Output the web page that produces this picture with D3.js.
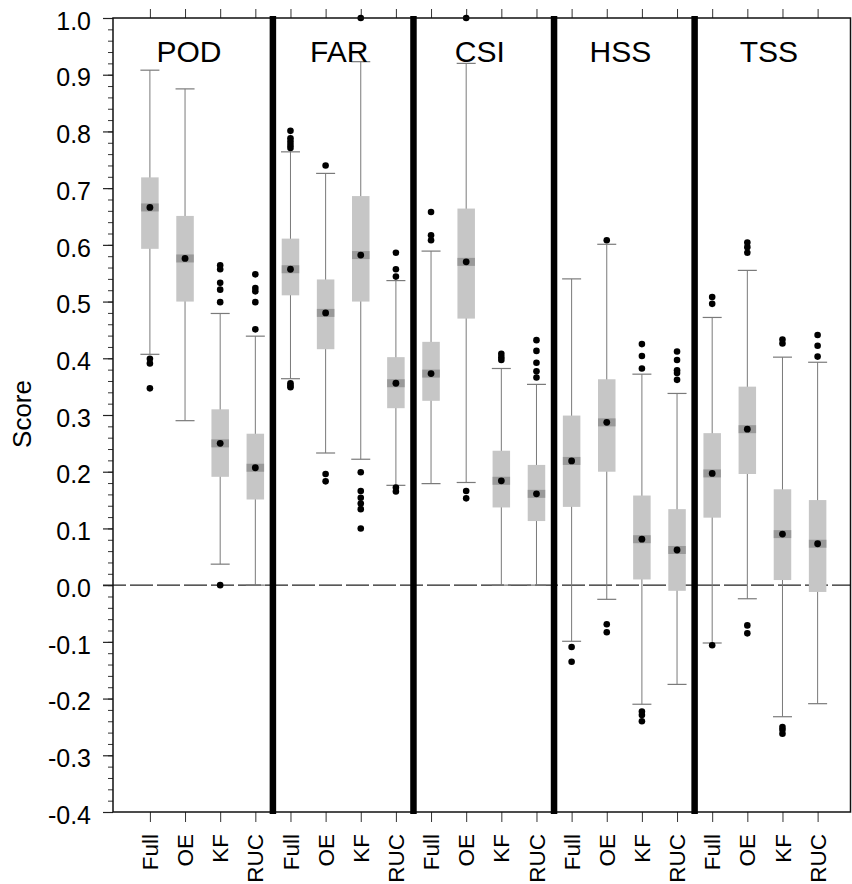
<!DOCTYPE html>
<html>
<head>
<meta charset="utf-8">
<script src="https://cdn.jsdelivr.net/npm/d3@7"></script>
<style>
  body { margin: 0; background: #fff; }
  text { font-family: "Liberation Sans", Arial, sans-serif; fill: #000; }
</style>
</head>
<body>
<svg id="chart" width="852" height="884"></svg>
<script>
// panels (scores) and models inside each panel
var panels = ["POD", "FAR", "CSI", "HSS", "TSS"];
var models = ["Full", "OE", "KF", "RUC"];

// box statistics, 20 boxes in order POD Full..TSS RUC
var whiskerLow  = [0.407, 0.290, 0.037, 0.000,  0.364, 0.233, 0.222, 0.176,  0.179, 0.181, 0.000, 0.000,  -0.099, -0.025, -0.210, -0.175,  -0.102, -0.024, -0.232, -0.209];
var q1          = [0.593, 0.500, 0.191, 0.151,  0.511, 0.416, 0.500, 0.312,  0.325, 0.470, 0.137, 0.113,   0.138,  0.200,  0.010, -0.010,   0.119,  0.196,  0.009, -0.012];
var median      = [0.666, 0.576, 0.250, 0.207,  0.557, 0.480, 0.582, 0.356,  0.373, 0.570, 0.184, 0.161,   0.219,  0.287,  0.081,  0.062,   0.197,  0.275,  0.090,  0.073];
var q3          = [0.719, 0.651, 0.310, 0.267,  0.611, 0.539, 0.686, 0.402,  0.429, 0.664, 0.237, 0.212,   0.299,  0.363,  0.158,  0.134,   0.268,  0.350,  0.169,  0.150];
var whiskerHigh = [0.908, 0.875, 0.479, 0.439,  0.764, 0.726, 0.923, 0.537,  0.589, 0.920, 0.382, 0.354,   0.540,  0.601,  0.372,  0.338,   0.472,  0.555,  0.402,  0.393];
var outliers = [
  [0.399, 0.391, 0.347],
  [],
  [0.564, 0.557, 0.533, 0.521, 0.499, 0.0],
  [0.548, 0.524, 0.518, 0.499, 0.451],
  [0.801, 0.788, 0.782, 0.776, 0.771, 0.356, 0.352, 0.349],
  [0.740, 0.196, 0.183],
  [1.0, 0.199, 0.166, 0.154, 0.144, 0.134, 0.100],
  [0.586, 0.557, 0.544, 0.172, 0.165],
  [0.658, 0.617, 0.608],
  [1.0, 0.166, 0.153],
  [0.408, 0.402, 0.397],
  [0.432, 0.413, 0.392, 0.377, 0.366],
  [-0.109, -0.135],
  [0.608, -0.069, -0.083],
  [0.425, 0.404, 0.382, -0.223, -0.229, -0.240],
  [0.412, 0.397, 0.379, 0.374, 0.362],
  [0.508, 0.496, -0.106],
  [0.604, 0.596, 0.586, -0.071, -0.085],
  [0.433, 0.426, -0.250, -0.255, -0.262],
  [0.441, 0.422, 0.403]
];
var yTickValues = [-0.4, -0.3, -0.2, -0.1, 0.0, 0.1, 0.2, 0.3, 0.4, 0.5, 0.6, 0.7, 0.8, 0.9, 1.0];
var yTitle = "Score";

(function() {
var svg = d3.select("#chart");
svg.append("rect").attr("width", 852).attr("height", 884).attr("fill", "#fff");

var pLeft = 113, pRight = 851, pTop = 18, pBottom = 812;

// category index -> x
var x = d3.scaleLinear().domain([-1.05, 19.95]).range([pLeft, pRight]);
var y = d3.scaleLinear().domain([-0.4, 1.0]).range([pBottom, pTop]);

// build the box list
var boxes = [];
panels.forEach(function(p, pi) {
  models.forEach(function(m, mi) {
    var i = pi * models.length + mi;
    boxes.push({
      idx: i, panel: p, model: m,
      lo: whiskerLow[i], q1: q1[i], med: median[i], q3: q3[i], hi: whiskerHigh[i],
      out: outliers[i]
    });
  });
});

var boxW = 17.5, capW = 19, bandH = 4;

// y axis, major and minor ticks
var minor = d3.range(-0.4, 1.0001, 0.02).map(function(v) { return +v.toFixed(2); });
svg.append("g")
  .attr("transform", "translate(" + pLeft + ",0)")
  .call(d3.axisLeft(y).tickValues(minor).tickSize(5).tickFormat(""))
  .call(function(g) { g.select(".domain").remove(); g.selectAll("line").attr("stroke", "#333"); });

var yAxis = svg.append("g")
  .attr("transform", "translate(" + pLeft + ",0)")
  .call(d3.axisLeft(y).tickValues(yTickValues).tickSize(10).tickPadding(12)
    .tickFormat(function(v) { return v.toFixed(1); }));
yAxis.select(".domain").remove();
yAxis.selectAll("line").attr("stroke", "#222").attr("stroke-width", 1.2);
yAxis.selectAll("text")
  .attr("font-size", 25)
  .attr("font-family", "'Liberation Sans', Arial, sans-serif")
  .attr("dy", "0.45em");

// x axes (bottom and top ticks)
var catIdx = d3.range(boxes.length);
var xb = svg.append("g")
  .attr("transform", "translate(0," + pBottom + ")")
  .call(d3.axisBottom(x).tickValues(catIdx).tickSize(10).tickFormat(""));
xb.select(".domain").remove();
xb.selectAll("line").attr("stroke", "#333");

var xt = svg.append("g")
  .attr("transform", "translate(0," + pTop + ")")
  .call(d3.axisTop(x).tickValues(catIdx).tickSize(9).tickFormat(""));
xt.select(".domain").remove();
xt.selectAll("line").attr("stroke", "#333");

// category labels, rotated
svg.append("g").selectAll("text")
  .data(boxes)
  .enter().append("text")
    .attr("transform", function(d) { return "translate(" + x(d.idx) + ",834) rotate(-90)"; })
    .attr("text-anchor", "end")
    .attr("dy", "0.36em")
    .attr("font-size", 22.5)
    .text(function(d) { return d.model; });

// y title
svg.append("text")
  .attr("transform", "translate(22,414) rotate(-90)")
  .attr("text-anchor", "middle")
  .attr("dy", "0.36em")
  .attr("font-size", 26)
  .text(yTitle);

// zero line
svg.append("line")
  .attr("x1", pLeft - 10).attr("x2", pRight)
  .attr("y1", y(0)).attr("y2", y(0))
  .attr("stroke", "#222").attr("stroke-width", 1.4)
  .attr("stroke-dasharray", "23,4");

// whiskers
var g = svg.append("g");
var bx = g.selectAll("g.box").data(boxes).enter().append("g").attr("class", "box");

bx.append("line")
  .attr("x1", function(d) { return x(d.idx); }).attr("x2", function(d) { return x(d.idx); })
  .attr("y1", function(d) { return y(d.lo); }).attr("y2", function(d) { return y(d.hi); })
  .attr("stroke", "#7a7a7a").attr("stroke-width", 1);

bx.selectAll("line.cap")
  .data(function(d) { return [{ i: d.idx, v: d.lo }, { i: d.idx, v: d.hi }]; })
  .enter().append("line").attr("class", "cap")
    .attr("x1", function(d) { return x(d.i) - capW / 2; })
    .attr("x2", function(d) { return x(d.i) + capW / 2; })
    .attr("y1", function(d) { return y(d.v); }).attr("y2", function(d) { return y(d.v); })
    .attr("stroke", "#7a7a7a").attr("stroke-width", 1.2);

// boxes
bx.append("rect")
  .attr("x", function(d) { return x(d.idx) - boxW / 2; })
  .attr("width", boxW)
  .attr("y", function(d) { return y(d.q3); })
  .attr("height", function(d) { return y(d.q1) - y(d.q3); })
  .attr("fill", "#c6c6c6");

// darker band at median
bx.append("rect")
  .attr("x", function(d) { return x(d.idx) - boxW / 2; })
  .attr("width", boxW)
  .attr("y", function(d) { return y(d.med) - bandH; })
  .attr("height", bandH * 2)
  .attr("fill", "#999");

bx.append("circle")
  .attr("cx", function(d) { return x(d.idx); })
  .attr("cy", function(d) { return y(d.med); })
  .attr("r", 3.4)
  .attr("fill", "#000");

// outliers
bx.selectAll("circle.out")
  .data(function(d) { return d.out.map(function(v) { return { i: d.idx, v: v }; }); })
  .enter().append("circle").attr("class", "out")
    .attr("cx", function(d) { return x(d.i); })
    .attr("cy", function(d) { return y(d.v); })
    .attr("r", 3.3)
    .attr("fill", "#000");

// frame
svg.append("rect")
  .attr("x", pLeft).attr("y", pTop)
  .attr("width", pRight - pLeft - 0.5).attr("height", pBottom - pTop)
  .attr("fill", "none").attr("stroke", "#111").attr("stroke-width", 1.5);

// thick separators between panels
var seps = d3.range(1, panels.length).map(function(k) { return k * models.length - 0.5; });
svg.append("g").selectAll("line")
  .data(seps)
  .enter().append("line")
    .attr("x1", function(d) { return x(d); }).attr("x2", function(d) { return x(d); })
    .attr("y1", pTop - 2).attr("y2", pBottom + 2)
    .attr("stroke", "#000").attr("stroke-width", 6.5);

// panel titles
var edges = [pLeft].concat(seps.map(function(d) { return x(d); })).concat([pRight]);
svg.append("g").selectAll("text")
  .data(panels)
  .enter().append("text")
    .attr("x", function(d, i) { return (edges[i] + edges[i + 1]) / 2 - 4; })
    .attr("y", 62)
    .attr("text-anchor", "middle")
    .attr("font-size", 30)
    .text(function(d) { return d; });
})();
</script>
</body>
</html>
